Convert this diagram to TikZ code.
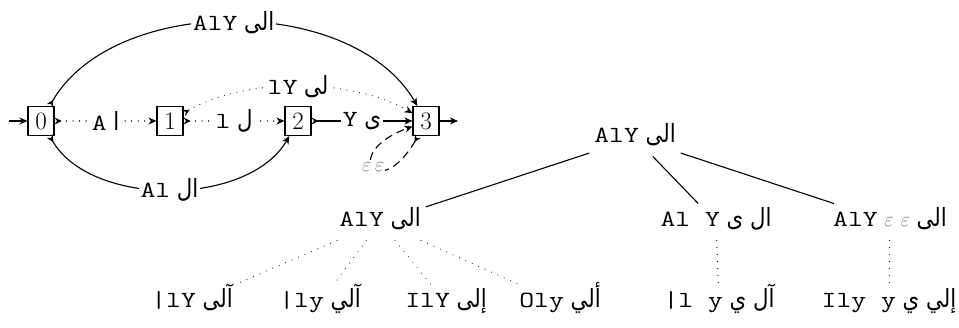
\documentclass[tikz,border=0pt]{standalone}
\usepackage{fontspec}
\setmonofont{Latin Modern Mono}[FakeStretch=1.25, Scale=1.05]
\newfontfamily\arabicfont[Script=Arabic,Scale=1.14,FakeStretch=0.85]{DejaVu Sans}
\usetikzlibrary{arrows.meta}
\TeXXeTstate=1
% grey epsilon
\newcommand\eps{{\color{gray}$\varepsilon$}}

\tikzset{
  state/.style={draw, line width=1.1pt, minimum width=26pt, minimum height=29pt,
    inner sep=0pt, font=\fontsize{25}{30}\selectfont},
  edge/.style={line width=1.1pt,
    {Stealth[reversed,length=7pt,width=7pt,inset=2.5pt]}-{Stealth[length=8pt,width=7pt,inset=2.5pt]}},
  plain/.style={line width=1.1pt, -{Stealth[length=8pt,width=7pt,inset=2.5pt]}},
  dots/.style={dash pattern=on 0.01pt off 6.5pt, line cap=round},
  dashes/.style={dash pattern=on 8pt off 5pt},
  lbl/.style={fill=white, inner sep=2pt, font=\fontsize{22}{26}\selectfont},
  tnode/.style={inner sep=0pt, outer xsep=5pt, outer ysep=8pt,
    font=\fontsize{22}{26}\selectfont, text height=15pt, text depth=6pt},
  tline/.style={line width=1.1pt},
  tdots/.style={line width=1.1pt, dash pattern=on 0.01pt off 7pt, line cap=round},
}

\begin{document}
\begin{tikzpicture}[x=1pt,y=1pt]
\useasboundingbox (0,0) rectangle (959,-328);

% automaton
\node[state] (n0) at (41,-121) {0};
\node[state] (n1) at (170,-121) {1};
\node[state] (n2) at (298,-121) {2};
\node[state] (n3) at (426,-121) {3};
\coordinate (init) at (9,-121);
\coordinate (fin) at (458,-121);

\draw[plain] (init) -- (n0);
\draw[plain] (n3) -- (fin);
\draw[edge,dots] (n0) -- node[lbl] {\texttt{A} {\arabicfont\beginR ا\endR}} (n1);
\draw[edge,dots] (n1) -- node[lbl] {\texttt{l} {\arabicfont\beginR ل\endR}} (n2);
\draw[edge] (n2) -- node[lbl] {\texttt{Y} {\arabicfont\beginR ى\endR}} (n3);
\draw[edge,dots] (n1) to[out=30,in=150,looseness=0.8]
  node[lbl] {\texttt{lY} {\arabicfont\beginR لى\endR}} (n3);
\draw[edge] (n0) to[out=60,in=120,looseness=0.9]
  node[lbl] {\texttt{AlY} {\arabicfont\beginR الى\endR}} (n3);
\draw[edge] (n0) to[out=-60,in=-120,looseness=0.88]
  node[lbl] {\texttt{Al} {\arabicfont\beginR ال\endR}} (n2);
\draw[edge,dashes] (n3.-118) .. controls +(-120:78) and +(-160:78) ..
  node[lbl, inner sep=1pt] {\eps\,\eps} (n3.-158);

% tree of readings
\node[tnode] (root) at (635,-138) {\texttt{AlY} {\arabicfont\beginR الى\endR}};
\node[tnode] (cA) at (380,-222) {\texttt{AlY} {\arabicfont\beginR الى\endR}};
\node[tnode] (cB) at (716,-222) {\texttt{Al Y} {\arabicfont\beginR ال ى\endR}};
\node[tnode] (cC) at (890,-222) {\texttt{AlY} \eps\ \eps\ {\arabicfont\beginR الى\endR}};
\node[tnode] (g1) at (192,-303) {\texttt{|lY} {\arabicfont\beginR آلى\endR}};
\node[tnode] (g2) at (320,-303) {\texttt{|ly} {\arabicfont\beginR آلي\endR}};
\node[tnode] (g3) at (446,-303) {\texttt{IlY} {\arabicfont\beginR إلى\endR}};
\node[tnode] (g4) at (560,-303) {\texttt{Oly} {\arabicfont\beginR ألي\endR}};
\node[tnode] (g5) at (719,-303) {\texttt{|l y} {\arabicfont\beginR آل ي\endR}};
\node[tnode] (g6) at (889,-303) {\texttt{Ily y} {\arabicfont\beginR إلي ي\endR}};

\draw[tline] (root) -- (cA);
\draw[tline] (root) -- (cB);
\draw[tline] (root) -- (cC);
\draw[tdots] (cA) -- (g1);
\draw[tdots] (cA) -- (g2);
\draw[tdots] (cA) -- (g3);
\draw[tdots] (cA) -- (g4);
\draw[tdots] (cB) -- (g5);
\draw[tdots] (cC) -- (g6);
\end{tikzpicture}
\end{document}
